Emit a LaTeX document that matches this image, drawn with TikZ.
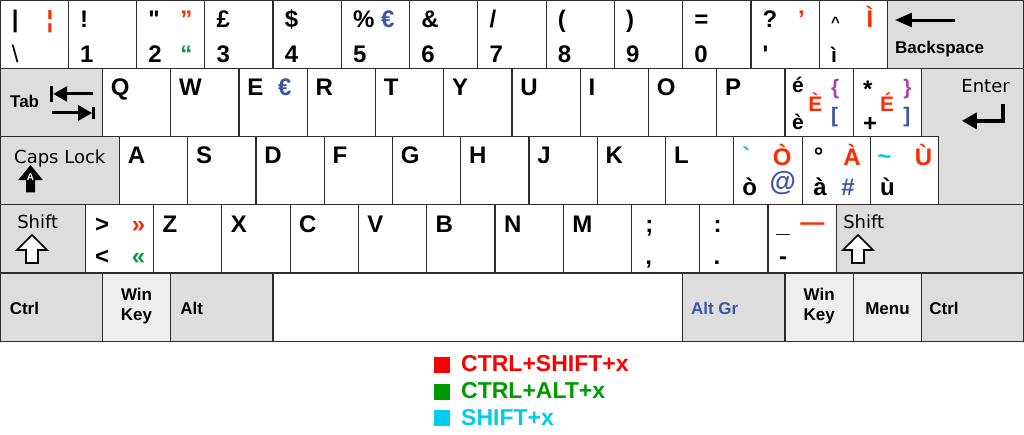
\documentclass[tikz,border=0pt]{standalone}
\usepackage{fontspec}
\setmainfont{Liberation Sans}
\newfontfamily\dejavu{DejaVu Sans}
\usepackage{tikz}
\usetikzlibrary{arrows.meta}
\definecolor{kbEdge}{RGB}{45, 45, 45}
\definecolor{kbMod}{RGB}{221, 221, 221}
\definecolor{kbWin}{RGB}{238, 238, 238}
\definecolor{kbRed}{RGB}{255, 42, 0}
\definecolor{kbGreen}{RGB}{0, 160, 60}
\definecolor{kbBlue}{RGB}{60, 85, 165}
\definecolor{kbPurple}{RGB}{170, 68, 170}
\definecolor{kbCyan}{RGB}{0, 200, 230}
\definecolor{lgRed}{RGB}{255, 0, 0}
\definecolor{lgGreen}{RGB}{0, 153, 0}
\definecolor{lgCyan}{RGB}{0, 204, 238}
\tikzset{
    keycap/.style={
        draw=kbEdge,
        line width=1.2pt,
        fill=white
    },
    modcap/.style={
        keycap,
        fill=kbMod
    },
    wincap/.style={
        keycap,
        fill=kbWin
    },
    glyph/.style={
        font=\fontsize{24}{28}\selectfont\bfseries,
        anchor=base west,
        inner sep=0pt
    },
    small glyph/.style={
        glyph,
        font=\fontsize{21}{24}\selectfont\bfseries
    },
    modlabel/.style={
        font=\fontsize{17}{20}\selectfont\bfseries,
        anchor=base west,
        inner sep=0pt
    },
    softlabel/.style={
        font=\dejavu\fontsize{18}{20}\selectfont,
        anchor=base west,
        inner sep=0pt
    },
    icon/.style={
        draw=black,
        line width=3pt
    },
    shifticon/.style={
        draw=black,
        line width=1.6pt,
        fill=white,
        line join=miter
    },
    legendbox/.style={
        minimum size=16pt,
        inner sep=0pt
    },
    legendtext/.style={
        font=\fontsize{23}{26}\selectfont\bfseries,
        anchor=base west,
        inner sep=0pt
    }
}

\begin{document}
\begin{tikzpicture}[x=68.267pt, y=-68.267pt]
  \useasboundingbox (0,0) rectangle (15,6.3575);

  % key caps
  \foreach \i in {0,...,12}
    \draw[keycap] (\i,0) rectangle ++(1,1);
  \draw[modcap] (13,0) rectangle (15,1);
  \draw[modcap] (0,1) rectangle (1.5,2);
  \foreach \i in {0,...,11}
    \draw[keycap] (1.5+\i,1) rectangle ++(1,1);
  \draw[modcap] (13.5,1) -- (15,1) -- (15,3) -- (13.75,3) -- (13.75,2) -- (13.5,2) -- cycle;
  \draw[modcap] (0,2) rectangle (1.75,3);
  \foreach \i in {0,...,11}
    \draw[keycap] (1.75+\i,2) rectangle ++(1,1);
  \draw[modcap] (0,3) rectangle (1.25,4);
  \foreach \i in {0,...,10}
    \draw[keycap] (1.25+\i,3) rectangle ++(1,1);
  \draw[modcap] (12.25,3) rectangle (15,4);
  \draw[modcap] (0,4) rectangle (1.5,5);
  \draw[wincap] (1.5,4) rectangle (2.5,5);
  \draw[modcap] (2.5,4) rectangle (4,5);
  \draw[keycap] (4,4) rectangle (10,5);
  \draw[modcap] (10,4) rectangle (11.5,5);
  \draw[wincap] (11.5,4) rectangle (12.5,5);
  \draw[wincap] (12.5,4) rectangle (13.5,5);
  \draw[modcap] (13.5,4) rectangle (15,5);

  % number row
  \foreach \up/\low [count=\i from 0] in {{|}/{\mdseries\textbackslash}, !/1, \textquotedbl/2, £/3, \$/4, \%/5, \&/6, \slash/7, {(}/8, {)}/9, =/0, ?/\textquotesingle, {\fontsize{15}{18}\selectfont\textasciicircum}/{\fontsize{21}{24}\selectfont ì}} {
    \node[glyph] (up\i) at (\i+0.17,0.41) {\up};
    \node[glyph] (low\i) at (\i+0.17,0.91) {\low};
  }
  \node[glyph, text=kbRed] (brokenBar) at (0.68,0.41) {¦};
  \node[glyph, text=kbRed] (rdquo) at (2.64,0.41) {”};
  \node[glyph, text=kbGreen] (ldquo) at (2.64,0.91) {“};
  \node[glyph, text=kbBlue] (euroFive) at (5.58,0.41) {€};
  \node[glyph, text=kbRed] (rsquo) at (11.69,0.41) {’};
  \node[glyph, text=kbRed] (Igrave) at (12.69,0.41) {Ì};

  % letter rows
  \foreach \ch [count=\i from 0] in {Q,W,E,R,T,Y,U,I,O,P}
    \node[glyph] (key\ch) at (1.5+\i+0.12,1.40) {\ch};
  \foreach \ch [count=\i from 0] in {A,S,D,F,G,H,J,K,L}
    \node[glyph] (key\ch) at (1.75+\i+0.12,2.40) {\ch};
  \foreach \ch [count=\i from 0] in {Z,X,C,V,B,N,M}
    \node[glyph] (key\ch) at (2.25+\i+0.13,3.40) {\ch};
  \node[glyph, text=kbBlue] (euroE) at (4.07,1.40) {€};

  \node[small glyph] (eacute) at (11.60,1.35) {é};
  \node[small glyph] (egrave) at (11.60,1.90) {è};
  \node[small glyph, text=kbRed] (Egrave) at (11.84,1.64) {È};
  \node[small glyph, text=kbPurple] (lbrace) at (12.17,1.39) {\{};
  \node[small glyph, text=kbBlue] (lbrack) at (12.17,1.80) {[};
  \node[glyph] (asterisk) at (12.64,1.43) {*};
  \node[glyph] (plus) at (12.64,1.93) {+};
  \node[small glyph, text=kbRed] (Eacute) at (12.89,1.64) {É};
  \node[small glyph, text=kbPurple] (rbrace) at (13.23,1.39) {\}};
  \node[small glyph, text=kbBlue] (rbrack) at (13.23,1.80) {]};

  \node[glyph, text=kbCyan] (grave) at (10.87,2.41) {\textasciigrave};
  \node[glyph, text=kbRed] (Ograve) at (11.32,2.42) {Ò};
  \node[glyph] (ograve) at (10.87,2.86) {ò};
  \node[glyph, text=kbBlue, font=\fontsize{27}{30}\selectfont\bfseries] (at) at (11.27,2.79) {@};
  \node[glyph] (degree) at (11.92,2.41) {°};
  \node[glyph, text=kbRed] (Agrave) at (12.35,2.42) {À};
  \node[glyph] (agrave) at (11.91,2.86) {à};
  \node[glyph, text=kbBlue] (hash) at (12.32,2.86) {\#};
  \node[glyph, text=kbCyan] (tilde) at (12.85,2.41) {\textasciitilde};
  \node[glyph, text=kbRed] (Ugrave) at (13.40,2.42) {Ù};
  \node[glyph] (ugrave) at (12.89,2.86) {ù};

  \node[glyph] (greater) at (1.39,3.40) {>};
  \node[glyph] (less) at (1.39,3.88) {<};
  \node[glyph, text=kbRed] (raquo) at (1.93,3.40) {»};
  \node[glyph, text=kbGreen] (laquo) at (1.93,3.88) {«};
  \node[glyph] (semicolon) at (9.45,3.40) {;};
  \node[glyph] (comma) at (9.45,3.88) {,};
  \node[glyph] (colon) at (10.45,3.40) {:};
  \node[glyph] (period) at (10.45,3.88) {.};
  \node[glyph] (underscore) at (11.37,3.40) {\_};
  \node[glyph] (minus) at (11.41,3.88) {-};
  \node[glyph, text=kbRed] (emdash) at (11.72,3.37) {—};

  % modifier labels
  \node[modlabel] (backspace) at (13.11,0.78) {Backspace};
  \node[modlabel] (tab) at (0.146,1.58) {Tab};
  \node[softlabel] (enter) at (14.08,1.35) {Enter};
  \node[softlabel] (capslock) at (0.205,2.39) {Caps Lock};
  \node[softlabel] (lshift) at (0.25,3.35) {Shift};
  \node[softlabel] (rshift) at (12.35,3.35) {Shift};
  \node[modlabel] (lctrl) at (0.14,4.60) {Ctrl};
  \node[modlabel, anchor=center, align=center] (lwin) at (2.0,4.48) {Win\\Key};
  \node[modlabel] (lalt) at (2.64,4.60) {Alt};
  \node[modlabel, text=kbBlue] (altgr) at (10.12,4.60) {Alt Gr};
  \node[modlabel, anchor=center, align=center] (rwin) at (12.0,4.48) {Win\\Key};
  \node[modlabel, anchor=base] (menu) at (13.0,4.60) {Menu};
  \node[modlabel] (rctrl) at (13.61,4.60) {Ctrl};

  % icons
  \draw[icon, -{Triangle[length=17pt, width=14pt]}] (13.99,0.293) -- (13.11,0.293);
  \draw[icon, -{Triangle[length=14pt, width=15pt]}] (1.36,1.376) -- (0.78,1.376);
  \draw[icon] (0.754,1.26) -- (0.754,1.49);
  \draw[icon, -{Triangle[length=14pt, width=15pt]}] (0.76,1.655) -- (1.35,1.655);
  \draw[icon] (1.37,1.567) -- (1.37,1.743);
  \draw[icon, line width=3.5pt, -{Triangle[length=15pt, width=16pt]}] (14.69,1.52) -- (14.69,1.77) -- (14.09,1.77);
  \fill[black, shift={(0.447,2.417)}] (0,0) -- (0.18,0.22) -- (0.066,0.22) -- (0.066,0.4) -- (-0.066,0.4) -- (-0.066,0.22) -- (-0.18,0.22) -- cycle;
  \node[font=\fontsize{10}{11}\selectfont\bfseries, text=white, inner sep=0pt] (capsA) at (0.447,2.6) {A};
  \draw[shifticon, shift={(0.469,3.442)}] (0,0) -- (0.22,0.22) -- (0.088,0.22) -- (0.088,0.411) -- (-0.088,0.411) -- (-0.088,0.22) -- (-0.22,0.22) -- cycle;
  \draw[shifticon, shift={(12.568,3.442)}] (0,0) -- (0.22,0.22) -- (0.088,0.22) -- (0.088,0.411) -- (-0.088,0.411) -- (-0.088,0.22) -- (-0.22,0.22) -- cycle;

  % legend
  \node[legendbox, fill=lgRed] (boxRed) at (6.475,5.347) {};
  \node[legendtext, text=lgRed] (txtRed) at (6.753,5.449) {CTRL+SHIFT+x};
  \node[legendbox, fill=lgGreen] (boxGreen) at (6.475,5.735) {};
  \node[legendtext, text=lgGreen] (txtGreen) at (6.753,5.837) {CTRL+ALT+x};
  \node[legendbox, fill=lgCyan] (boxCyan) at (6.475,6.123) {};
  \node[legendtext, text=lgCyan] (txtCyan) at (6.753,6.226) {SHIFT+x};
\end{tikzpicture}
\end{document}
